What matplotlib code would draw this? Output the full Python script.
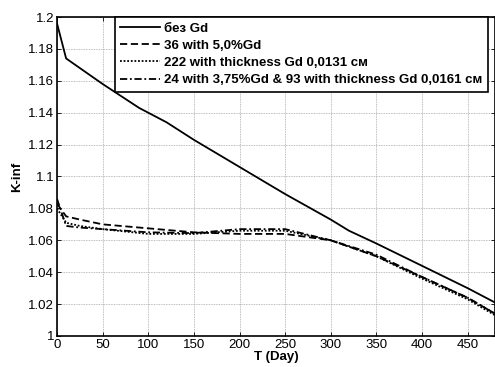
import matplotlib
matplotlib.use("Agg")
import matplotlib.pyplot as plt

plt.rcParams['font.family'] = ['Liberation Sans', 'DejaVu Sans']

# data
t_nogd = [0, 10, 25, 50, 90, 120, 150, 200, 250, 300, 320, 350, 400, 450, 480]
k_nogd = [1.196, 1.174, 1.168, 1.158, 1.143, 1.134, 1.123, 1.106, 1.089, 1.073, 1.066, 1.058, 1.044, 1.030, 1.021]

t_gd = [0, 10, 25, 50, 100, 150, 200, 250, 300, 350, 400, 450, 480]
k_36 = [1.083, 1.075, 1.073, 1.070, 1.0675, 1.065, 1.064, 1.064, 1.060, 1.050, 1.037, 1.024, 1.014]
k_222 = [1.080, 1.071, 1.069, 1.067, 1.064, 1.064, 1.066, 1.066, 1.060, 1.050, 1.036, 1.023, 1.013]
k_24 = [1.086, 1.069, 1.068, 1.067, 1.065, 1.0645, 1.067, 1.067, 1.060, 1.051, 1.037, 1.024, 1.014]

labels = ["без Gd",
          "36 with 5,0%Gd",
          "222 with thickness Gd 0,0131 см",
          "24 with 3,75%Gd & 93 with thickness Gd 0,0161 см"]

x_ticks = list(range(0, 451, 50))
y_ticks = [1.0, 1.02, 1.04, 1.06, 1.08, 1.1, 1.12, 1.14, 1.16, 1.18, 1.2]
y_tick_labels = ["1", "1.02", "1.04", "1.06", "1.08", "1.1", "1.12", "1.14", "1.16", "1.18", "1.2"]

fig = plt.figure(figsize=(4.95, 3.67), dpi=100)
ax = fig.add_axes([57 / 495, 1 - 336 / 367, 438 / 495, 319 / 367])

ax.plot(t_nogd, k_nogd, color="black", linestyle="-", linewidth=1.3, label=labels[0])
ax.plot(t_gd, k_36, color="black", linestyle=(0, (4, 2)), linewidth=1.3, label=labels[1])
ax.plot(t_gd, k_222, color="black", linestyle=(0, (1, 1)), linewidth=1.3, label=labels[2])
ax.plot(t_gd, k_24, color="black", linestyle=(0, (4, 1.5, 1, 1.5)), linewidth=1.3, label=labels[3])

ax.set_xlim(0, 480)
ax.set_ylim(1.0, 1.2)
ax.set_xticks(x_ticks)
ax.set_yticks(y_ticks)
ax.set_yticklabels(y_tick_labels)
ax.tick_params(direction="in", top=True, right=True, labelsize=9.5, length=3, width=0.6, pad=2)
ax.grid(True, color="#a8a8a8", linestyle=(0, (1, 1)), linewidth=0.6)
for s in ax.spines.values():
    s.set_linewidth(1.2)

ax.set_xlabel("T (Day)", fontsize=9.5, fontweight="bold", labelpad=0)
ax.set_ylabel("K-inf", fontsize=9.5, fontweight="bold", labelpad=4)

leg = ax.legend(loc="upper left", bbox_to_anchor=(0.132, 1.0), prop={"weight": "bold", "size": 9.5},
                fancybox=False, framealpha=1, edgecolor="black", borderaxespad=0,
                handlelength=3.0, labelspacing=0.38, borderpad=0.4, handletextpad=0.35)
leg.get_frame().set_linewidth(1.2)

fig.savefig("out.png", dpi=100)
